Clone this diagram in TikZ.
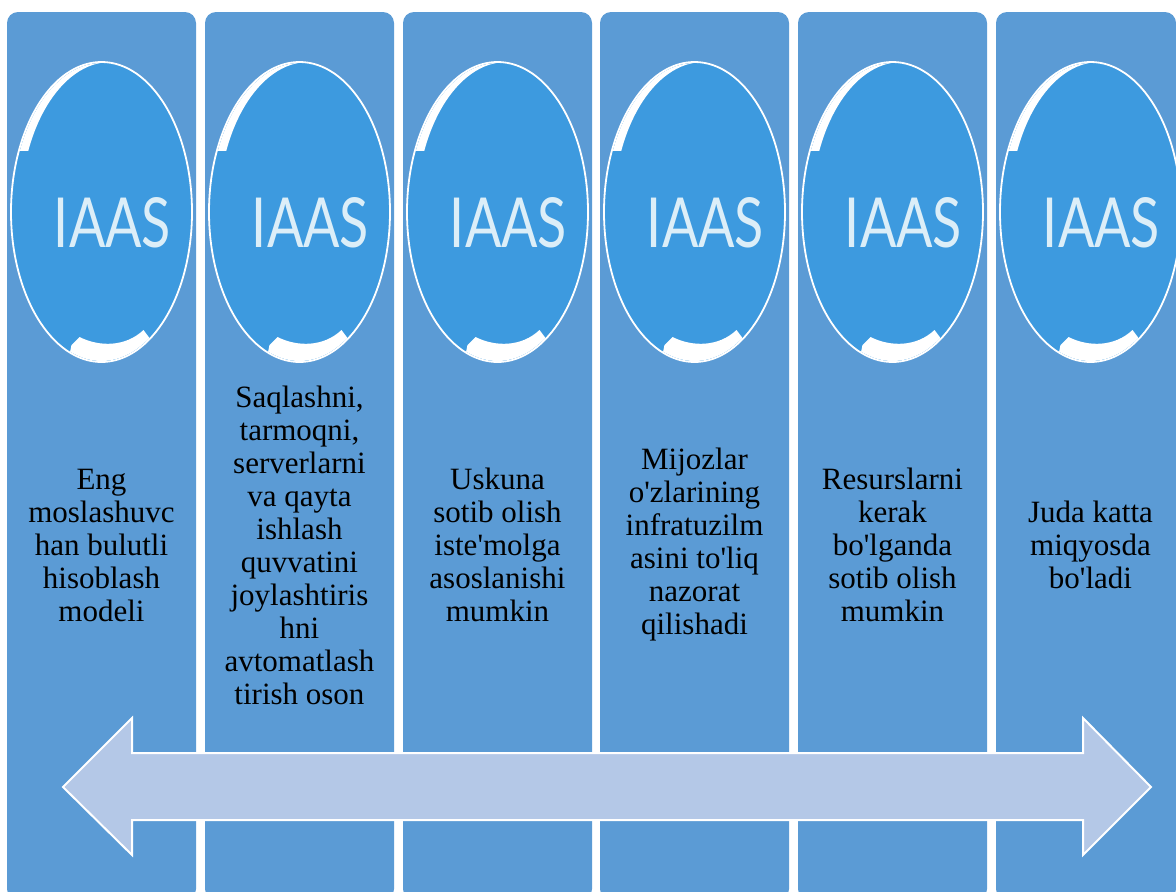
\documentclass[tikz,border=0pt]{standalone}
\usepackage{fontspec}
\newfontfamily\bodyfont{Liberation Serif}
\newfontfamily\badgefont{Lato}
\usetikzlibrary{shapes.geometric}
\definecolor{colblue}{HTML}{5B9BD5}
\definecolor{ovalblue}{HTML}{3D9ADF}
\definecolor{arrowblue}{HTML}{B4C8E7}
\definecolor{badgetext}{HTML}{DCEEF8}

\begin{document}
\begin{tikzpicture}
  [x=1pt,y=-1pt,
   column/.style={fill=colblue,rounded corners=11pt},
   oval/.style={ellipse,draw=white,line width=1.8pt,fill=ovalblue,minimum width=181pt,minimum height=300pt,inner sep=0pt},
   badge/.style={text=badgetext,inner sep=0pt,font=\badgefont\fontsize{69}{69}\selectfont},
   desc/.style={align=center,inner sep=0pt,font=\bodyfont\fontsize{31}{33}\selectfont}]
  \useasboundingbox (0,0) rectangle (1176,892);
  \clip (0,0) rectangle (1176,892);

  % columns
  \foreach \l/\r in {7/196, 205/394, 403/592, 600/789, 798/987, 996/1176}
    \fill[column] (\l,12) rectangle (\r,900);

  % IAAS badges
  \foreach \x/\n in {101.5/1, 299.5/2, 497.5/3, 694.5/4, 892.5/5, 1090.5/6}{
    \node[oval] (o\n) at (\x,212) {};
    \begin{scope}[shift={(\x,212)}]
      \clip (0,0) ellipse [x radius=89.5, y radius=149];
      \fill[white] (-34,152) -- (-30,133) -- (-22,125) .. controls (-2,135) and (24,135) .. (42,118) -- (51,130) -- (60,152) -- cycle;
      \clip (-100,-160) rectangle (12,-62);
      \fill[white,even odd rule] (0,0) ellipse [x radius=90, y radius=150] (9,0) ellipse [x radius=90, y radius=150];
    \end{scope}
    \node[badge] (b\n) at (\x+11,222.5) {\scalebox{.78}[1]{IAAS}};
  }

  % texts
  \node[desc] (t1) at (101.5,545) {Eng\\moslashuvc\\han bulutli\\hisoblash\\modeli};
  \node[desc] (t2) at (299.5,545) {Saqlashni,\\tarmoqni,\\serverlarni\\va qayta\\ishlash\\quvvatini\\joylashtiris\\hni\\avtomatlash\\tirish oson};
  \node[desc] (t3) at (497.5,545) {Uskuna\\sotib olish\\iste'molga\\asoslanishi\\mumkin};
  \node[desc] (t4) at (694.5,545) {Mijozlar\\o'zlarining\\infratuzilm\\asini to'liq\\nazorat\\qilishadi};
  \node[desc] (t5) at (892.5,545) {Resurslarni\\kerak\\bo'lganda\\sotib olish\\mumkin};
  \node[desc] (t6) at (1090.5,545) {Juda katta\\miqyosda\\bo'ladi};

  % double arrow
  \draw[white,line width=2pt,fill=arrowblue] (63,787) -- (132,718) -- (132,753) -- (1083,753) -- (1083,718) -- (1151,787) -- (1083,855) -- (1083,820) -- (132,820) -- (132,855) -- cycle;
\end{tikzpicture}
\end{document}
